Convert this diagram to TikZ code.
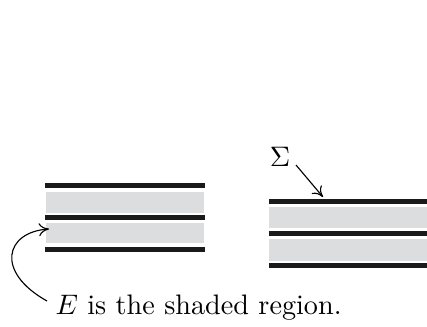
\documentclass[tikz,border=0pt]{standalone}
\usetikzlibrary{arrows.meta}
\definecolor{shadegray}{RGB}{220,221,223}
\definecolor{barblack}{RGB}{26,26,26}
\begin{document}
\begin{tikzpicture}[x=0.3546pt,y=-0.3546pt,
  bar/.style={fill=barblack,draw=none},
  shade/.style={fill=shadegray,draw=none},
  pointer/.style={draw,line width=0.4pt,-{To[length=3.6pt,width=4.6pt]}}]
\useasboundingbox (0,0) rectangle (427,326);
% left stack
\fill[bar] (45.3,183.3) rectangle (205,187.7);
\fill[shade] (46,191.7) rectangle (204,213.3);
\fill[bar] (45.3,215.3) rectangle (205,219.7);
\fill[shade] (46,222.7) rectangle (204,243.3);
\fill[bar] (45.3,247.3) rectangle (205,251.7);
% right stack
\fill[bar] (269.3,199.3) rectangle (427,204.3);
\fill[shade] (269.3,206.7) rectangle (427,227.7);
\fill[bar] (269.3,231) rectangle (427,236);
\fill[shade] (269.3,239.3) rectangle (427,260.7);
\fill[bar] (269.3,263.3) rectangle (427,268.3);
% labels
\node[anchor=base west,inner sep=0pt] (txt) at (55,314) {$E$ is the shaded region.};
\node[inner sep=0pt] (sig) at (280,157) {$\Sigma$};
\coordinate (etip) at (49,229);
\coordinate (stip) at (323,197);
\coordinate (tstart) at (47,301);
\coordinate (sstart) at (296,165);
\draw[pointer] (tstart) .. controls (-5,272) and (5,232) .. (etip);
\draw[pointer] (sstart) -- (stip);
\end{tikzpicture}
\end{document}
